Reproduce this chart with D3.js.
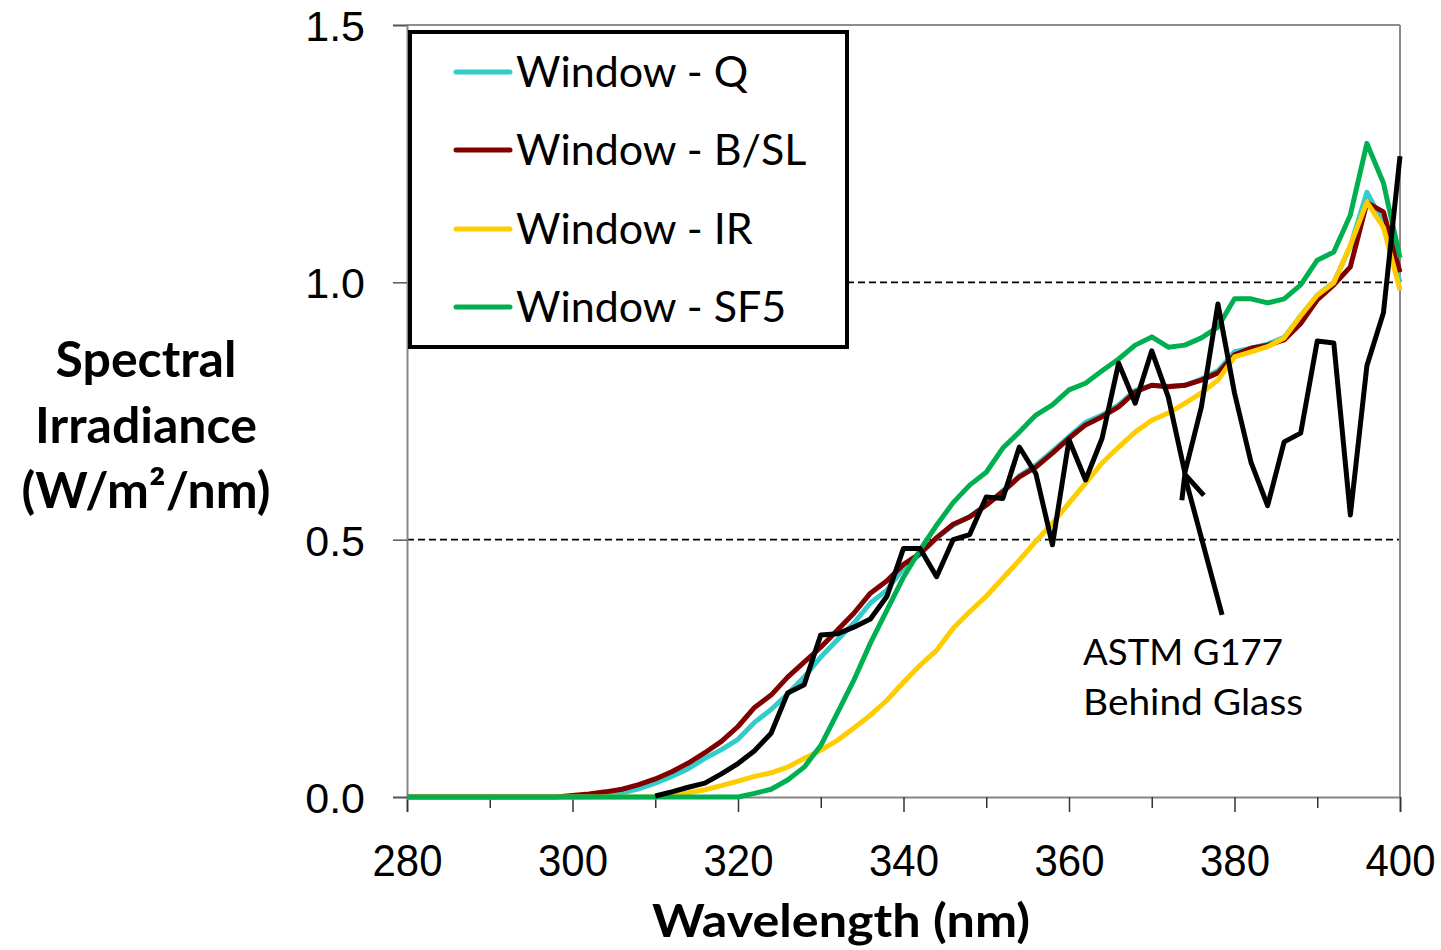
<!DOCTYPE html>
<html>
<head>
<meta charset="utf-8">
<script src="https://cdn.jsdelivr.net/npm/d3@7"></script>
<style>
  body { margin: 0; background: #fff; }
  svg { display: block; font-family: Lato, "Open Sans", sans-serif; }
</style>
</head>
<body>
<div id="chart"></div>
<script>
const W = 1441, H = 950;
const plot = { left: 407, right: 1400, top: 25, bottom: 797 };

// wavelength (nm), 2 nm steps
const wavelengths = [280, 282, 284, 286, 288, 290, 292, 294, 296, 298,
  300, 302, 304, 306, 308, 310, 312, 314, 316, 318,
  320, 322, 324, 326, 328, 330, 332, 334, 336, 338,
  340, 342, 344, 346, 348, 350, 352, 354, 356, 358,
  360, 362, 364, 366, 368, 370, 372, 374, 376, 378,
  380, 382, 384, 386, 388, 390, 392, 394, 396, 398, 400];

const windowQ = [0, 0, 0, 0, 0, 0, 0, 0, 0, 0,
  0, 0, 0.003, 0.008, 0.016, 0.027, 0.04, 0.055, 0.075, 0.092,
  0.112, 0.145, 0.17, 0.2, 0.233, 0.272, 0.305, 0.338, 0.377, 0.402,
  0.445, 0.472, 0.503, 0.528, 0.545, 0.568, 0.595, 0.624, 0.645, 0.672,
  0.7, 0.728, 0.742, 0.762, 0.79, 0.8, 0.798, 0.8, 0.812, 0.828,
  0.865, 0.872, 0.88, 0.893, 0.935, 0.975, 1.0, 1.07, 1.175, 1.115, 1.0];

const windowBSL = [0, 0, 0, 0, 0, 0, 0, 0, 0, 0,
  0.003, 0.006, 0.01, 0.015, 0.024, 0.035, 0.049, 0.066, 0.086, 0.108,
  0.137, 0.174, 0.198, 0.233, 0.262, 0.291, 0.324, 0.357, 0.396, 0.42,
  0.452, 0.473, 0.504, 0.53, 0.544, 0.567, 0.593, 0.622, 0.641, 0.668,
  0.697, 0.723, 0.739, 0.758, 0.787, 0.8, 0.797, 0.8, 0.81, 0.824,
  0.859, 0.872, 0.878, 0.888, 0.92, 0.966, 0.995, 1.03, 1.155, 1.137, 1.02];

const windowIR = [0, 0, 0, 0, 0, 0, 0, 0, 0, 0,
  0, 0, 0, 0, 0, 0, 0.003, 0.008, 0.014, 0.022,
  0.031, 0.04, 0.047, 0.058, 0.075, 0.091, 0.11, 0.134, 0.159, 0.188,
  0.223, 0.256, 0.285, 0.328, 0.36, 0.39, 0.425, 0.46, 0.497, 0.532,
  0.571, 0.61, 0.649, 0.68, 0.709, 0.732, 0.746, 0.765, 0.785, 0.81,
  0.855, 0.865, 0.875, 0.892, 0.935, 0.975, 0.999, 1.072, 1.156, 1.107, 0.985];

const windowSF5 = [0, 0, 0, 0, 0, 0, 0, 0, 0, 0,
  0, 0, 0, 0, 0, 0, 0, 0, 0, 0,
  0, 0.007, 0.015, 0.033, 0.058, 0.1, 0.163, 0.227, 0.299, 0.363,
  0.427, 0.48, 0.528, 0.572, 0.606, 0.631, 0.678, 0.709, 0.742, 0.762,
  0.791, 0.804, 0.828, 0.851, 0.878, 0.894, 0.874, 0.878, 0.892, 0.913,
  0.968, 0.968, 0.96, 0.968, 0.995, 1.043, 1.059, 1.131, 1.27, 1.193, 1.048];

// ASTM G177 behind glass, starts at 310 nm
const astmWavelengths = [310, 312, 314, 316, 318,
  320, 322, 324, 326, 328, 330, 332, 334, 336, 338,
  340, 342, 344, 346, 348, 350, 352, 354, 356, 358,
  360, 362, 364, 366, 368, 370, 372, 374, 376, 378,
  380, 382, 384, 386, 388, 390, 392, 394, 396, 398, 400];
const astmG177 = [0.002, 0.01, 0.019, 0.027, 0.045,
  0.065, 0.09, 0.124, 0.202, 0.218, 0.315, 0.317, 0.33, 0.346, 0.39,
  0.483, 0.483, 0.428, 0.5, 0.51, 0.583, 0.58, 0.68, 0.628, 0.49,
  0.694, 0.616, 0.697, 0.843, 0.765, 0.867, 0.777, 0.63, 0.758, 0.958,
  0.785, 0.65, 0.566, 0.69, 0.707, 0.886, 0.882, 0.548, 0.838, 0.941, 1.245];

const seriesNames = ["Window - Q", "Window - B/SL", "Window - IR", "Window - SF5"];
const seriesColors = ["#33CCCC", "#800000", "#FFCC00", "#00B050"];
const seriesValues = [windowQ, windowBSL, windowIR, windowSF5];

const yTicks = [0, 0.5, 1.0, 1.5];
const xTicks = [280, 290, 300, 310, 320, 330, 340, 350, 360, 370, 380, 390, 400];
const gridValues = [0.5, 1.0];

const svg = d3.select("#chart").append("svg")
  .attr("width", W).attr("height", H);

const x = d3.scaleLinear().domain([280, 400]).range([plot.left, plot.right]);
const y = d3.scaleLinear().domain([0, 1.5]).range([plot.bottom, plot.top]);

// dashed gridlines
svg.append("g").selectAll("line")
  .data(gridValues).enter().append("line")
  .attr("x1", plot.left).attr("x2", plot.right)
  .attr("y1", d => y(d)).attr("y2", d => y(d))
  .attr("stroke", "#000").attr("stroke-width", 1.8)
  .attr("stroke-dasharray", "7,4");

// top and right border
svg.append("line")
  .attr("x1", plot.left).attr("x2", plot.right)
  .attr("y1", y(1.5)).attr("y2", y(1.5))
  .attr("stroke", "#8c8c8c").attr("stroke-width", 2);
svg.append("line")
  .attr("x1", plot.right).attr("x2", plot.right)
  .attr("y1", plot.top).attr("y2", plot.bottom)
  .attr("stroke", "#8c8c8c").attr("stroke-width", 2);

// y axis
const yAxis = svg.append("g")
  .attr("transform", "translate(" + plot.left + ",0)")
  .call(d3.axisLeft(y).tickValues(yTicks).tickFormat(d3.format(".1f"))
    .tickSize(14).tickPadding(28));
yAxis.select(".domain").attr("stroke", "#868686").attr("stroke-width", 2);
yAxis.selectAll(".tick line").attr("stroke", "#555").attr("stroke-width", 1.5);
yAxis.selectAll("text").style("font-size", "43px").attr("fill", "#000")
  .attr("dy", "0.36em");

// x axis
const xAxis = svg.append("g")
  .attr("transform", "translate(0," + plot.bottom + ")")
  .call(d3.axisBottom(x).tickValues(xTicks)
    .tickFormat(d => (d % 20 === 0 ? d : ""))
    .tickSize(15).tickPadding(33));
xAxis.select(".domain").attr("stroke", "#868686").attr("stroke-width", 2);
xAxis.selectAll(".tick line").attr("stroke", "#333").attr("stroke-width", 1.5)
  .attr("y2", d => (d % 20 === 0 ? 15 : 11));
xAxis.selectAll("text").style("font-size", "44px").attr("fill", "#000")
  .attr("textLength", d => (d % 20 === 0 ? 70 : null))
  .attr("lengthAdjust", "spacingAndGlyphs");

// series lines
const line = d3.line()
  .x(d => x(d[0]))
  .y(d => y(d[1]));

seriesValues.forEach((vals, i) => {
  svg.append("path")
    .datum(wavelengths.map((w, j) => [w, vals[j]]))
    .attr("fill", "none")
    .attr("stroke", seriesColors[i])
    .attr("stroke-width", 5)
    .attr("stroke-linejoin", "round")
    .attr("d", line);
});

svg.append("path")
  .datum(astmWavelengths.map((w, j) => [w, astmG177[j]]))
  .attr("fill", "none")
  .attr("stroke", "#000")
  .attr("stroke-width", 5)
  .attr("stroke-linejoin", "round")
  .attr("d", line);

// legend
const legend = svg.append("g");
legend.append("rect")
  .attr("x", 410).attr("y", 32).attr("width", 437).attr("height", 315)
  .attr("fill", "#fff").attr("stroke", "#000").attr("stroke-width", 4);
const rowY = [72, 150, 229, 307];
seriesNames.forEach((name, i) => {
  legend.append("line")
    .attr("x1", 456).attr("x2", 510)
    .attr("y1", rowY[i]).attr("y2", rowY[i])
    .attr("stroke", seriesColors[i]).attr("stroke-width", 5)
    .attr("stroke-linecap", "round");
  legend.append("text")
    .attr("x", 516).attr("y", rowY[i] + 15)
    .style("font-size", "43px")
    .text(name);
});

// y title
const yTitle = ["Spectral", "Irradiance", "(W/m\u00B2/nm)"];
svg.append("g").selectAll("text")
  .data(yTitle).enter().append("text")
  .attr("x", 146)
  .attr("y", (d, i) => 377 + i * 65.5)
  .attr("text-anchor", "middle")
  .style("font-size", "50px").style("font-weight", "bold")
  .text(d => d);

// x title
svg.append("text")
  .attr("x", 841).attr("y", 937)
  .attr("text-anchor", "middle")
  .attr("textLength", 378).attr("lengthAdjust", "spacingAndGlyphs")
  .style("font-size", "46px").style("font-weight", "bold")
  .text("Wavelength (nm)");

// annotation
const arrowTip = [374, 0.627];
const arrowBase = [378.5, 0.354];
svg.append("line")
  .attr("x1", x(arrowBase[0])).attr("y1", y(arrowBase[1]))
  .attr("x2", x(arrowTip[0])).attr("y2", y(arrowTip[1]) + 2)
  .attr("stroke", "#000").attr("stroke-width", 5);
const tx = x(arrowTip[0]), ty = y(arrowTip[1]);
svg.append("path")
  .attr("d", "M" + (tx - 3) + "," + (ty + 26) + "L" + tx + "," + ty + "L" + (tx + 19) + "," + (ty + 21))
  .attr("fill", "none").attr("stroke", "#000").attr("stroke-width", 5)
  .attr("stroke-linejoin", "miter");

const noteLines = ["ASTM G177", "Behind Glass"];
const noteWidths = [200, 220];
svg.append("g").selectAll("text")
  .data(noteLines).enter().append("text")
  .attr("x", x(361.7))
  .attr("y", (d, i) => 665 + i * 50)
  .attr("textLength", (d, i) => noteWidths[i])
  .attr("lengthAdjust", "spacingAndGlyphs")
  .style("font-size", "37px")
  .text(d => d);
</script>
</body>
</html>
